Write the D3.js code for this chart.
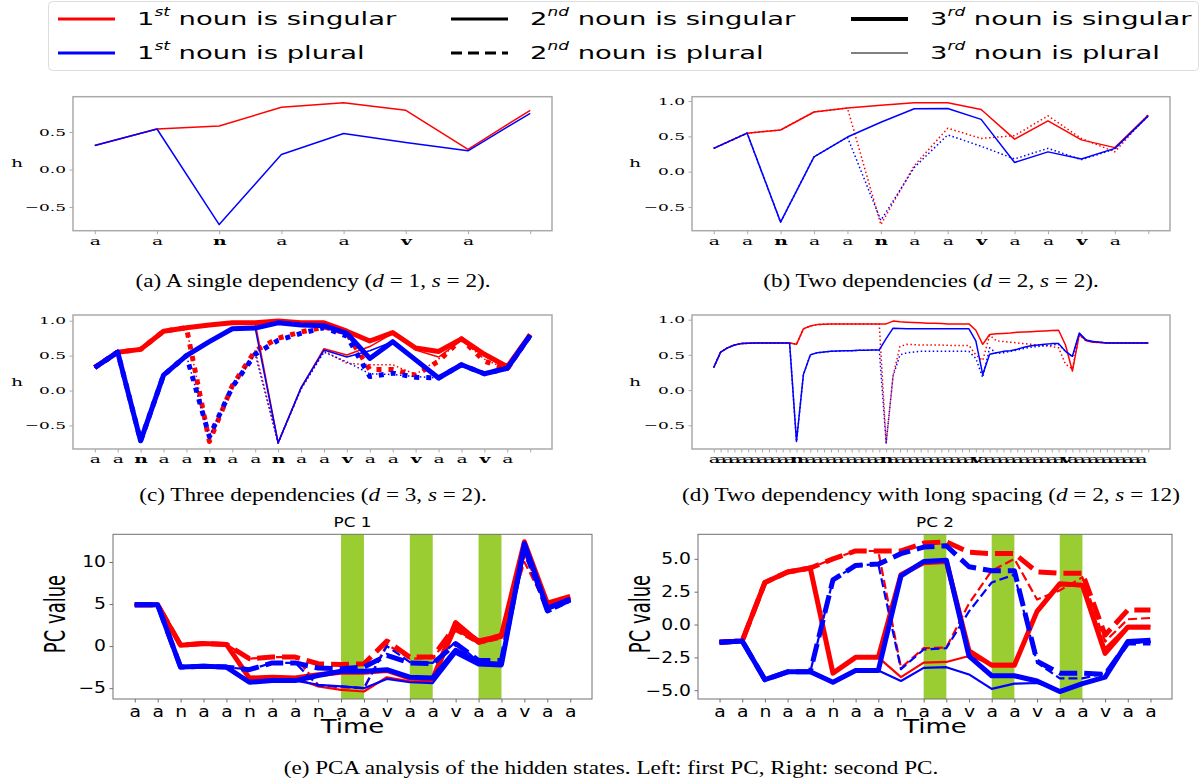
<!DOCTYPE html>
<html><head><meta charset="utf-8">
<script src="https://cdn.jsdelivr.net/npm/d3@7/dist/d3.min.js"></script>
<style>body{margin:0;background:#fff}</style></head>
<body><svg id="c" width="1202" height="784"></svg>
<script>
// ---------- data ----------
const aLabels = ["a","a","n","a","a","v","a",""];
const aSing = [0.32,0.54,0.58,0.83,0.89,0.79,0.27,0.79];
const aPlur = [0.32,0.54,-0.735,0.20,0.48,0.36,0.25,0.75];

const bLabels = ["a","a","n","a","a","n","a","a","v","a","a","v","a",""];
const bSS = [0.33,0.545,0.59,0.845,0.90,0.94,0.975,0.975,0.88,0.46,0.72,0.45,0.34,0.80];
const bSP = [0.33,0.545,0.59,0.845,0.90,-0.75,0.085,0.615,0.47,0.51,0.79,0.47,0.28,0.81];
const bPS = [0.33,0.545,-0.715,0.21,0.49,0.70,0.89,0.895,0.74,0.13,0.28,0.18,0.33,0.79];
const bPP = [0.33,0.545,-0.715,0.21,0.49,-0.69,0.06,0.52,0.36,0.18,0.33,0.17,0.32,0.79];

const cLabels = ["a","a","n","a","a","n","a","a","n","a","a","v","a","a","v","a","a","v","a",""];
const cSSS = [0.33,0.55,0.59,0.85,0.90,0.94,0.97,0.97,0.995,0.97,0.97,0.85,0.71,0.83,0.61,0.56,0.74,0.52,0.34,0.80];
const cSSP = [0.33,0.55,0.59,0.85,0.90,0.94,0.97,0.97,-0.75,0.04,0.60,0.51,0.63,0.82,0.58,0.48,0.72,0.50,0.33,0.80];
const cSPS = [0.33,0.55,0.59,0.85,0.90,-0.73,0.07,0.57,0.75,0.84,0.91,0.82,0.30,0.30,0.22,0.42,0.74,0.42,0.31,0.80];
const cSPP = [0.33,0.55,0.59,0.85,0.90,-0.73,0.07,0.57,-0.75,0.03,0.57,0.39,0.37,0.37,0.23,0.45,0.73,0.45,0.30,0.80];
const cPSS = [0.33,0.55,-0.72,0.22,0.50,0.70,0.885,0.895,0.97,0.94,0.93,0.82,0.46,0.70,0.44,0.18,0.37,0.24,0.32,0.79];
const cPSP = [0.33,0.55,-0.72,0.22,0.50,0.70,0.885,0.895,-0.75,0.04,0.58,0.48,0.57,0.70,0.45,0.19,0.37,0.24,0.32,0.79];
const cPPS = [0.33,0.55,-0.72,0.22,0.50,-0.66,0.05,0.52,0.72,0.82,0.90,0.78,0.20,0.25,0.19,0.18,0.37,0.24,0.32,0.79];
const cPPP = [0.33,0.55,-0.72,0.22,0.50,-0.66,0.05,0.52,-0.75,0.02,0.55,0.41,0.24,0.23,0.20,0.18,0.37,0.24,0.32,0.79];

const dLabels = ["a","a","a","a","a","a","a","a","a","a","a","a","n",
 "a","a","a","a","a","a","a","a","a","a","a","a","n",
 "a","a","a","a","a","a","a","a","a","a","a","a","v",
 "a","a","a","a","a","a","a","a","a","a","a","a","v",
 "a","a","a","a","a","a","a","a","a","a","a",""];
const dSS = [0.32,0.54,0.60,0.64,0.66,0.665,0.67,0.67,0.67,0.67,0.67,0.67,
 0.65,0.87,0.91,0.93,0.935,0.94,0.94,0.94,0.94,0.94,0.94,0.94,0.94,
 0.94,0.98,0.97,0.965,0.96,0.955,0.95,0.95,0.945,0.94,0.94,0.94,0.94,
 0.85,0.65,0.79,0.80,0.805,0.81,0.82,0.825,0.83,0.835,0.84,0.845,0.85,
 0.64,0.27,0.79,0.70,0.68,0.675,0.67,0.67,0.67,0.67,0.67,0.67,0.67];
const dSP = [0.32,0.54,0.60,0.64,0.66,0.665,0.67,0.67,0.67,0.67,0.67,0.67,
 0.65,0.87,0.91,0.93,0.935,0.94,0.94,0.94,0.94,0.94,0.94,0.94,0.94,
 -0.75,0.20,0.62,0.65,0.645,0.64,0.64,0.64,0.64,0.635,0.635,0.635,0.635,
 0.50,0.42,0.78,0.70,0.69,0.68,0.67,0.66,0.65,0.64,0.63,0.62,0.60,
 0.37,0.30,0.78,0.70,0.68,0.675,0.67,0.67,0.67,0.67,0.67,0.67,0.67];
const dPS = [0.32,0.54,0.60,0.64,0.66,0.665,0.67,0.67,0.67,0.67,0.67,0.67,
 -0.73,0.22,0.50,0.53,0.54,0.55,0.555,0.56,0.56,0.565,0.565,0.57,0.57,
 0.73,0.88,0.875,0.87,0.87,0.87,0.87,0.87,0.87,0.87,0.87,0.87,0.87,
 0.70,0.22,0.51,0.53,0.55,0.56,0.58,0.61,0.63,0.64,0.65,0.66,0.66,
 0.55,0.48,0.81,0.71,0.69,0.68,0.67,0.67,0.67,0.67,0.67,0.67,0.67];
const dPP = [0.32,0.54,0.60,0.64,0.66,0.665,0.67,0.67,0.67,0.67,0.67,0.67,
 -0.73,0.22,0.50,0.53,0.54,0.55,0.555,0.56,0.56,0.565,0.565,0.57,0.57,
 -0.75,0.20,0.50,0.53,0.54,0.55,0.55,0.55,0.55,0.55,0.55,0.55,0.55,
 0.45,0.18,0.60,0.52,0.53,0.55,0.57,0.59,0.61,0.62,0.63,0.64,0.65,
 0.55,0.47,0.80,0.71,0.69,0.68,0.67,0.67,0.67,0.67,0.67,0.67,0.67];

const eLabels = ["a","a","n","a","a","n","a","a","n","a","a","v","a","a","v","a","a","v","a","a"];
const eBars = [[9,10],[12,13],[15,16]];
const pc1SSS = [4.9,4.9,0.1,0.3,0.2,-3.8,-3.7,-3.8,-3.4,-3.1,-3.1,-2.9,-3.8,-3.9,2.8,0.5,1.3,12.4,5.1,5.9];
const pc1SSP = [4.9,4.9,0.1,0.3,0.2,-3.8,-3.7,-3.8,-4.8,-5.2,-5.4,-3.7,-4.2,-4.3,2.0,0.3,1.0,12.1,4.9,5.7];
const pc1SPS = [4.9,4.9,0.1,0.3,0.2,-1.5,-1.3,-1.3,-2.1,-2.2,-2.1,0.6,-1.3,-1.3,2.4,0.6,1.2,11.5,5.0,5.8];
const pc1SPP = [4.9,4.9,0.1,0.3,0.2,-1.5,-1.3,-1.3,-4.6,-4.9,-5.0,0.2,-1.5,-1.4,1.8,0.3,0.9,10.0,4.6,5.5];
const pc1PSS = [4.9,4.9,-2.5,-2.4,-2.5,-4.3,-4.1,-4.1,-3.5,-3.0,-3.0,-2.8,-3.7,-3.8,-0.5,-2.0,-2.2,12.2,4.5,5.6];
const pc1PSP = [4.9,4.9,-2.5,-2.4,-2.5,-4.3,-4.1,-4.1,-4.6,-4.8,-5.0,-3.9,-4.3,-4.4,-0.9,-2.3,-2.4,11.8,4.3,5.4];
const pc1PPS = [4.9,4.9,-2.5,-2.4,-2.5,-2.8,-2.0,-2.0,-2.6,-2.7,-2.5,-1.1,-2.0,-2.1,0.3,-1.7,-1.7,11.9,4.2,5.5];
const pc1PPP = [4.9,4.9,-2.5,-2.4,-2.5,-2.8,-2.0,-2.0,-4.7,-4.8,-5.0,0.0,-1.9,-2.0,0.5,-1.9,-2.0,11.0,4.0,5.3];

const pc2SSS = [-1.35,-1.25,3.2,4.0,4.3,-3.7,-2.5,-2.5,3.8,4.7,4.8,-2.0,-3.1,-3.1,1.0,3.1,3.0,-2.2,-0.2,-0.2];
const pc2SSP = [-1.35,-1.25,3.2,4.0,4.3,-3.7,-2.5,-2.5,-4.0,-2.9,-2.85,-2.4,-3.0,-3.0,1.1,3.0,2.9,-1.8,-0.1,-0.1];
const pc2SPS = [-1.35,-1.25,3.2,4.0,4.3,5.0,5.6,5.6,5.6,6.2,6.3,5.5,5.4,5.4,4.0,3.9,3.9,-0.8,1.1,1.1];
const pc2SPP = [-1.35,-1.25,3.2,4.0,4.3,5.0,5.6,5.6,-3.3,-1.8,-1.75,1.6,4.1,5.0,1.9,2.6,3.6,-1.3,0.4,0.5];
const pc2PSS = [-1.35,-1.25,-4.2,-3.6,-3.6,-4.4,-3.5,-3.5,3.7,4.8,4.9,-2.4,-3.9,-3.9,-4.3,-5.1,-4.5,-4.0,-1.3,-1.2];
const pc2PSP = [-1.35,-1.25,-4.2,-3.6,-3.6,-4.4,-3.5,-3.5,-4.3,-3.3,-3.25,-3.8,-4.9,-4.5,-4.45,-5.0,-4.5,-4.0,-1.4,-1.3];
const pc2PPS = [-1.35,-1.25,-4.2,-3.6,-3.6,3.4,4.5,4.6,5.4,5.9,6.0,4.4,4.1,4.1,-2.8,-3.7,-3.7,-3.8,-1.4,-1.4];
const pc2PPP = [-1.35,-1.25,-4.2,-3.6,-3.6,3.4,4.5,4.6,-3.4,-1.9,-1.8,1.0,3.2,3.8,-2.9,-4.1,-4.1,-3.7,-1.4,-1.35];

const hTicks = [-0.5,0,0.5,1.0];
const pc1Ticks = [-5,0,5,10];
const pc2Ticks = [-5,-2.5,0,2.5,5];

// ---------- drawing ----------
const svg = d3.select("#c");
const RED="#ff0000", BLUE="#0000ff";
const SERIF="'DejaVu Serif', serif", SANS="'DejaVu Sans', sans-serif", TIMES="'Liberation Serif','Times New Roman',serif";

function txt(parent, x, y, str, o){
  const t = parent.append("text")
    .attr("transform", `translate(${x},${y}) scale(${o.sx||1},1)` + (o.rot?` rotate(${o.rot})`:""))
    .attr("text-anchor", o.anchor||"middle")
    .attr("dominant-baseline", "central")
    .attr("font-family", o.family).attr("font-size", o.size)
    .attr("font-weight", o.weight||"normal").attr("fill","#000");
  if (typeof str === "string") t.text(str);
  else str.forEach(p=>{ const s=t.append("tspan").text(p.t);
      if(p.i) s.attr("font-style","italic");
      if(p.sup){ s.attr("font-size", o.size*0.62).attr("font-style","italic").attr("dy", -o.size*0.38); }
      if(p.back){ s.attr("dy", o.size*0.38); } });
  return t;
}

function panel(o){
  const n=o.labels.length, m=0.05*(n-1);
  const x=d3.scaleLinear().domain([-m,n-1+m]).range([o.x0,o.x1]);
  const all=o.series.flatMap(s=>s.v);
  const lo=d3.min(all), hi=d3.max(all), r=hi-lo;
  const y=d3.scaleLinear().domain([lo-0.05*r,hi+0.05*r]).range([o.y1,o.y0]);
  const g=svg.append("g");
  (o.bars||[]).forEach(b=>g.append("rect").attr("x",x(b[0])).attr("y",o.y0)
     .attr("width",x(b[1])-x(b[0])).attr("height",o.y1-o.y0).attr("fill","#9acd32"));
  const line=d3.line().x((d,i)=>x(i)).y(d=>y(d));
  o.series.forEach(s=>g.append("path").attr("d",line(s.v)).attr("fill","none")
     .attr("stroke",s.c).attr("stroke-width",s.w).attr("stroke-dasharray",s.dash||null)
     .attr("stroke-linejoin","round").attr("stroke-linecap","butt"));
  g.append("rect").attr("x",o.x0).attr("y",o.y0).attr("width",o.x1-o.x0).attr("height",o.y1-o.y0)
     .attr("fill","none").attr("stroke",o.spine).attr("stroke-width",o.spineW);
  const xa=g.append("g").attr("transform",`translate(0,${o.y1})`)
     .call(d3.axisBottom(x).tickValues(d3.range(n)).tickFormat(i=>o.labels[i]).tickSize(3.5).tickPadding(o.xpad));
  xa.select(".domain").remove();
  xa.selectAll("line").attr("stroke",o.spine);
  xa.selectAll("text").attr("font-family",o.font).attr("font-size",o.xfs).attr("fill","#000")
     .attr("transform",`scale(${o.sx},1)`)
     .attr("font-weight",i=>o.bold&&(o.labels[i]==="n"||o.labels[i]==="v")?"bold":"normal");
  const dom=y.domain();
  const ya=g.append("g").attr("transform",`translate(${o.x0},0)`)
     .call(d3.axisLeft(y).tickValues(o.yticks.filter(t=>t>=dom[0]&&t<=dom[1])).tickFormat(o.yfmt).tickSize(3.5).tickPadding(3.5));
  ya.select(".domain").remove();
  ya.selectAll("line").attr("stroke",o.spine);
  ya.selectAll("text").attr("font-family",o.font).attr("font-size",o.yfs).attr("fill","#000")
     .attr("x",-7/o.sx).attr("transform",`scale(${o.sx},1)`);
  return {g,x,y};
}

const fmt1 = d3.format(".1f");
function hPanel(x0,x1,y0,y1,labels,series,hx){
  const p=panel({x0,x1,y0,y1,labels,series,yticks:hTicks,yfmt:fmt1,font:SERIF,xfs:11,yfs:10,sx:1.7,
    bold:true,spine:"#aaaaaa",spineW:1.5,xpad:3});
  txt(p.g,hx,(y0+y1)/2,"h",{family:SERIF,size:11,sx:1.7});
  return p;
}
const thin=1.5, dot="1.5,2.5";
// (a)
hPanel(73,552,96.7,230.7,aLabels,[
  {v:aSing,c:RED,w:thin},{v:aPlur,c:BLUE,w:thin}],17);
// (b)
hPanel(692,1170,96.7,230.7,bLabels,[
  {v:bSP,c:RED,w:thin,dash:dot},{v:bSS,c:RED,w:thin},
  {v:bPP,c:BLUE,w:thin,dash:dot},{v:bPS,c:BLUE,w:thin}],635);
// (c)
const TK=5, cdot="5,7";
hPanel(73,552,315,449,cLabels,[
  {v:cSSS,c:RED,w:TK},{v:cSPS,c:RED,w:TK,dash:cdot},{v:cSSP,c:RED,w:thin},{v:cSPP,c:RED,w:thin,dash:dot},
  {v:cPSS,c:BLUE,w:TK},{v:cPPS,c:BLUE,w:TK,dash:cdot},{v:cPSP,c:BLUE,w:thin},{v:cPPP,c:BLUE,w:thin,dash:dot}],17);
// (d)
hPanel(692,1170,315,449,dLabels,[
  {v:dSP,c:RED,w:thin,dash:dot},{v:dSS,c:RED,w:thin},
  {v:dPP,c:BLUE,w:thin,dash:dot},{v:dPS,c:BLUE,w:thin}],635);

// (e) PCA
const PT=5, PN=2.2, PDT="18,7", PDN="9,4";
function pcPanel(x0,x1,series,ticks,fmt,title){
  const p=panel({x0,x1,y0:534.3,y1:699,labels:eLabels,series,yticks:ticks,yfmt:fmt,font:SANS,xfs:15,yfs:15,sx:1.25,
    bold:false,spine:"#707070",spineW:1,xpad:3.5,bars:eBars});
  txt(p.g,(x0+x1)/2,523,title,{family:SANS,size:13.5,sx:1.25});
  txt(p.g,(x0+x1)/2,726,"Time",{family:SANS,size:20,sx:1.3});
  txt(p.g,x0-58,614,"PC value",{family:SANS,size:18,sx:1.55,rot:-90});
  return p;
}
pcPanel(113,592,[
  {v:pc1SSS,c:RED,w:PT},{v:pc1SSP,c:RED,w:PN},{v:pc1SPS,c:RED,w:PT,dash:PDT},{v:pc1SPP,c:RED,w:PN,dash:PDN},
  {v:pc1PSS,c:BLUE,w:PT},{v:pc1PSP,c:BLUE,w:PN},{v:pc1PPS,c:BLUE,w:PT,dash:PDT},{v:pc1PPP,c:BLUE,w:PN,dash:PDN}],
  pc1Ticks,d3.format("d"),"PC 1");
pcPanel(698,1172,[
  {v:pc2SSS,c:RED,w:PT},{v:pc2SSP,c:RED,w:PN},{v:pc2SPS,c:RED,w:PT,dash:PDT},{v:pc2SPP,c:RED,w:PN,dash:PDN},
  {v:pc2PSS,c:BLUE,w:PT},{v:pc2PSP,c:BLUE,w:PN},{v:pc2PPS,c:BLUE,w:PT,dash:PDT},{v:pc2PPP,c:BLUE,w:PN,dash:PDN}],
  pc2Ticks,d3.format(".1f"),"PC 2");

// captions
const cap={family:TIMES,size:19,sx:1.22};
txt(svg,313,281,[{t:"(a) A single dependency ("},{t:"d",i:1},{t:" = 1, "},{t:"s",i:1},{t:" = 2)."}],cap);
txt(svg,931,281,[{t:"(b) Two dependencies ("},{t:"d",i:1},{t:" = 2, "},{t:"s",i:1},{t:" = 2)."}],cap);
txt(svg,313,495,[{t:"(c) Three dependencies ("},{t:"d",i:1},{t:" = 3, "},{t:"s",i:1},{t:" = 2)."}],cap);
txt(svg,931,495,[{t:"(d) Two dependency with long spacing ("},{t:"d",i:1},{t:" = 2, "},{t:"s",i:1},{t:" = 12)"}],cap);
txt(svg,611,768,"(e) PCA analysis of the hidden states. Left: first PC, Right: second PC.",cap);

// legend
const lg=svg.append("g");
lg.append("rect").attr("x",48.5).attr("y",1.5).attr("width",1150).attr("height",69).attr("rx",4)
  .attr("fill","#fff").attr("stroke","#dddddd");
const legItems=[
  {col:0,row:0,c:RED,w:3,n:"1",s:"st",t:" noun is singular"},
  {col:0,row:1,c:BLUE,w:3,n:"1",s:"st",t:" noun is plural"},
  {col:1,row:0,c:"#000",w:3,n:"2",s:"nd",t:" noun is singular"},
  {col:1,row:1,c:"#000",w:3,dash:"11,6",n:"2",s:"nd",t:" noun is plural"},
  {col:2,row:0,c:"#000",w:4,n:"3",s:"rd",t:" noun is singular"},
  {col:2,row:1,c:"#000",w:1,n:"3",s:"rd",t:" noun is plural"}];
const colX=[58,451,851], rowY=[19,53];
legItems.forEach(it=>{
  const lx=colX[it.col], ly=rowY[it.row];
  lg.append("line").attr("x1",lx).attr("x2",lx+57).attr("y1",ly).attr("y2",ly)
    .attr("stroke",it.c).attr("stroke-width",it.w).attr("stroke-dasharray",it.dash||null);
  txt(lg,lx+79,ly,[{t:it.n},{t:it.s,sup:1},{t:it.t,back:1}],{family:SANS,size:18.5,sx:1.48,anchor:"start"});
});
</script></body></html>
